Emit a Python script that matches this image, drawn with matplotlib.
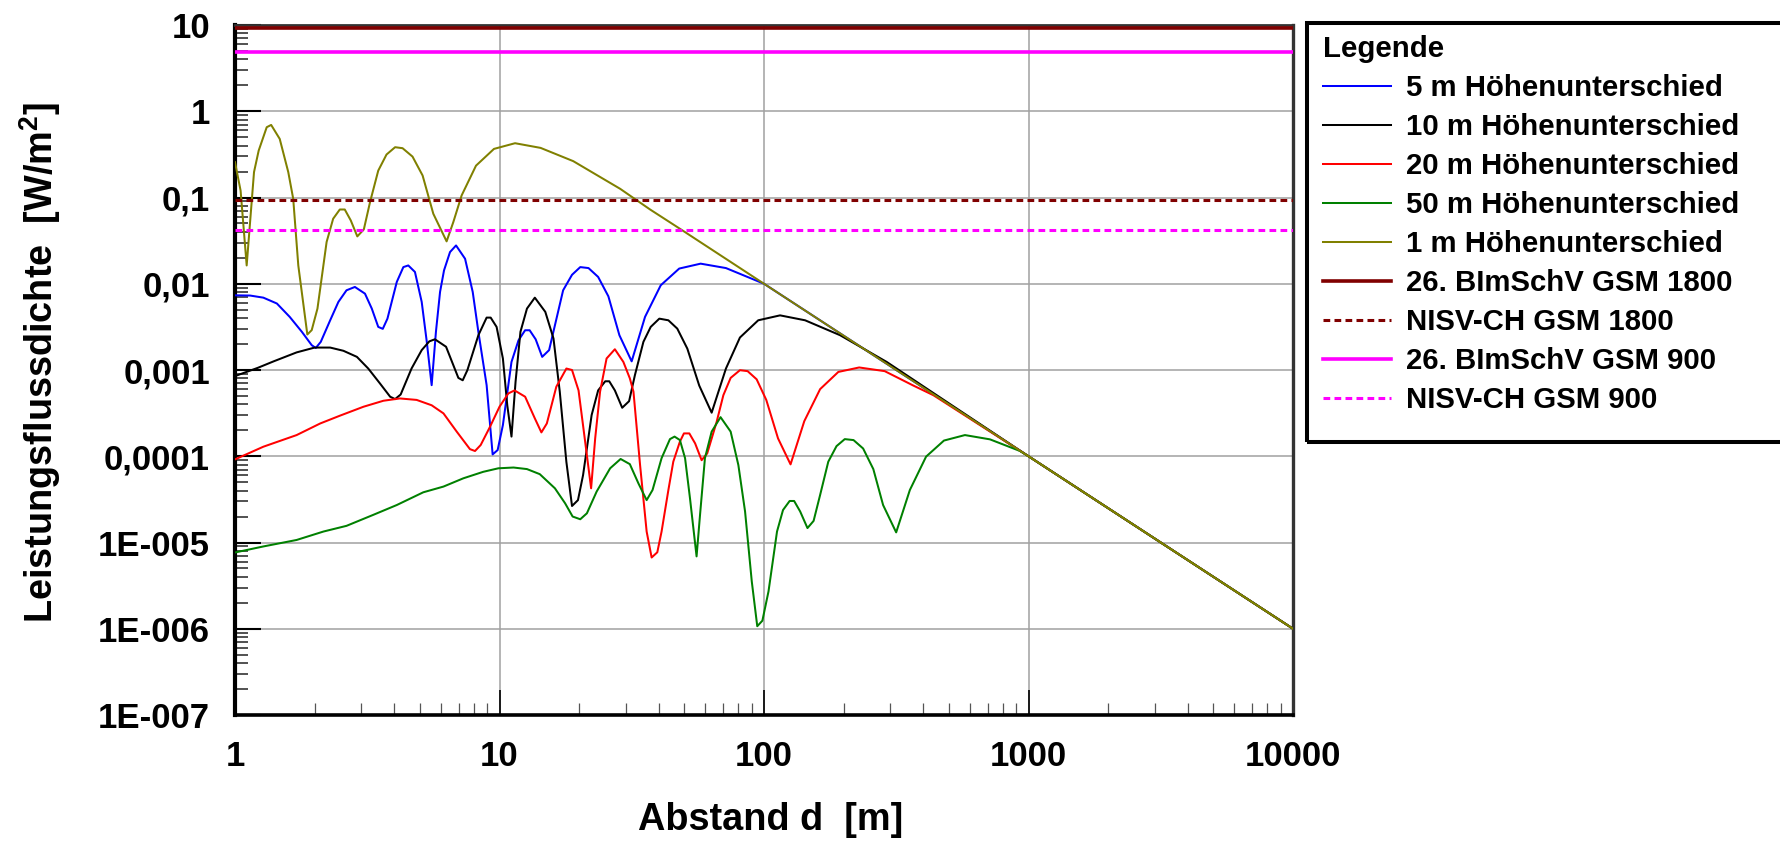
import numpy as np
import matplotlib
matplotlib.use("Agg")
import matplotlib.pyplot as plt
from matplotlib.patches import Rectangle
from matplotlib.ticker import LogLocator, NullFormatter

plt.rcParams['font.family'] = ['Liberation Sans', 'DejaVu Sans']
plt.rcParams['font.weight'] = 'bold'
plt.rcParams['mathtext.fontset'] = 'custom'
plt.rcParams['mathtext.rm'] = 'Liberation Sans:bold'
plt.rcParams['mathtext.bf'] = 'Liberation Sans:bold'
plt.rcParams['mathtext.default'] = 'rm'

# ---------------- data ----------------
d_1m = [1.0, 1.05, 1.107, 1.18, 1.229, 1.318, 1.37, 1.476, 1.59, 1.66, 1.735, 1.877, 1.95, 2.05,
        2.22, 2.35, 2.49, 2.6, 2.74, 2.9, 3.07, 3.24, 3.48, 3.74, 4.03, 4.3, 4.69, 5.12, 5.62,
        6.31, 6.69, 7.19, 8.15, 9.53, 11.45, 14.3, 19.0, 28.6, 37.1, 48.1, 100, 1000, 10000]
p_1m = [0.257, 0.12, 0.0163, 0.197, 0.35, 0.653, 0.694, 0.478, 0.197, 0.0966, 0.0163, 0.00258,
        0.0029, 0.00515, 0.0305, 0.0567, 0.0726, 0.0726, 0.0542, 0.0354, 0.0427, 0.0885, 0.205,
        0.315, 0.383, 0.373, 0.298, 0.18, 0.0648, 0.031, 0.0519, 0.1055, 0.234, 0.366, 0.426,
        0.376, 0.264, 0.126, 0.0726, 0.0434, 0.01, 1e-4, 1e-6]

d_5m = [1.0, 1.14, 1.28, 1.44, 1.61, 1.79, 1.95, 2.02, 2.11, 2.29, 2.46, 2.64, 2.84, 3.1, 3.29,
        3.48, 3.62, 3.77, 4.09, 4.33, 4.52, 4.79, 5.08, 5.31, 5.54, 5.75, 5.96, 6.17, 6.5, 6.85,
        7.41, 7.92, 8.32, 8.94, 9.42, 9.84, 10.3, 11.1, 11.8, 12.5, 13.0, 13.7, 14.5, 15.4, 17.4,
        18.8, 20.2, 21.7, 23.6, 25.8, 28.4, 31.6, 35.5, 40.7, 47.8, 57.6, 71.8, 100, 1000, 10000]
p_5m = [0.00734, 0.0073, 0.0069, 0.0059, 0.00413, 0.00277, 0.00194, 0.0018, 0.00212, 0.00377,
        0.00616, 0.0084, 0.00918, 0.00768, 0.00515, 0.00316, 0.0030, 0.00394, 0.0105, 0.0156,
        0.0163, 0.0137, 0.00616, 0.00212, 0.000667, 0.00277, 0.00804, 0.0143, 0.0233, 0.0278,
        0.0195, 0.00804, 0.00277, 0.000667, 1.05e-4, 1.18e-4, 2.3e-4, 0.00124, 0.00221, 0.00289,
        0.00289, 0.00227, 0.00142, 0.0017, 0.0084, 0.0127, 0.0156, 0.0152, 0.012, 0.00715,
        0.00253, 0.00126, 0.00413, 0.0096, 0.015, 0.0171, 0.0152, 0.01, 1e-4, 1e-6]

d_10m = [1.0, 1.22, 1.4, 1.71, 2.0, 2.29, 2.57, 2.89, 3.19, 3.53, 3.86, 4.03, 4.23, 4.65, 5.08,
         5.43, 5.7, 6.28, 6.99, 7.26, 7.56, 8.32, 8.94, 9.26, 9.75, 10.3, 10.7, 11.1, 11.5, 12.0,
         12.7, 13.6, 14.9, 16.0, 16.9, 17.9, 18.8, 19.8, 20.7, 22.3, 23.6, 25.1, 26.0, 27.3, 29.1,
         30.9, 32.5, 35.0, 37.3, 40.2, 43.5, 47.0, 51.3, 56.9, 63.4, 71.8, 81.1, 95.1, 115, 143,
         194, 291, 1000, 10000]
p_10m = [8.5e-4, 0.00106, 0.00126, 0.0016, 0.00182, 0.00182, 0.00167, 0.00142, 0.00104, 7.0e-4,
         4.9e-4, 4.6e-4, 5.2e-4, 0.00104, 0.0017, 0.00215, 0.00227, 0.00186, 8.1e-4, 7.6e-4,
         9.95e-4, 0.00253, 0.00405, 0.00405, 0.00316, 0.00136, 3.9e-4, 1.69e-4, 7.3e-4, 0.00277,
         0.00515, 0.0069, 0.00472, 0.00232, 5.6e-4, 8.6e-5, 2.65e-5, 3.1e-5, 6.05e-5, 3.0e-4,
         5.8e-4, 7.4e-4, 7.4e-4, 5.8e-4, 3.65e-4, 4.35e-4, 8.7e-4, 0.00212, 0.00316, 0.00394,
         0.00377, 0.00302, 0.00177, 6.6e-4, 3.2e-4, 0.00104, 0.00238, 0.00377, 0.0043, 0.00377,
         0.00253, 0.00124, 1e-4, 1e-6]

d_20m = [1.0, 1.28, 1.71, 2.1, 2.49, 3.06, 3.64, 4.2, 4.86, 5.54, 6.14, 6.89, 7.73, 8.08, 8.49,
         9.21, 10.0, 10.8, 11.4, 12.5, 13.6, 14.4, 15.1, 16.4, 17.9, 18.8, 19.9, 21.0, 22.2, 23.0,
         24.0, 25.4, 27.3, 29.4, 31.1, 32.1, 34.0, 36.0, 37.6, 39.5, 41.0, 43.5, 45.4, 48.1, 49.8,
         52.2, 54.9, 58.1, 61.0, 66.2, 70.2, 74.8, 81.1, 86.7, 93.8, 102, 113, 126, 142, 163, 191,
         229, 286, 367, 437, 1000, 10000]
p_20m = [9.2e-5, 1.29e-4, 1.76e-4, 2.4e-4, 2.95e-4, 3.75e-4, 4.4e-4, 4.68e-4, 4.5e-4, 3.9e-4,
         3.14e-4, 1.93e-4, 1.21e-4, 1.15e-4, 1.35e-4, 2.2e-4, 3.75e-4, 5.35e-4, 5.8e-4, 4.9e-4,
         2.75e-4, 1.89e-4, 2.4e-4, 6.4e-4, 1.04e-3, 1.0e-3, 5.8e-4, 1.61e-4, 4.25e-5, 1.61e-4,
         5.6e-4, 1.36e-3, 1.74e-3, 1.24e-3, 8.0e-4, 5.6e-4, 7.9e-5, 1.34e-5, 6.7e-6, 7.7e-6,
         1.34e-5, 4.06e-5, 8.65e-5, 1.48e-4, 1.84e-4, 1.84e-4, 1.41e-4, 9.0e-5, 1.08e-4, 2.5e-4,
         5.1e-4, 8.1e-4, 9.95e-4, 9.7e-4, 7.8e-4, 4.5e-4, 1.61e-4, 8.05e-5, 2.55e-4, 6.0e-4,
         9.5e-4, 1.07e-3, 9.7e-4, 6.6e-4, 5.1e-4, 1e-4, 1e-6]

d_50m = [1.0, 1.28, 1.71, 2.16, 2.64, 3.33, 4.09, 5.15, 6.14, 7.3, 8.68, 9.9, 11.3, 12.7, 14.2,
         16.2, 17.7, 18.9, 20.2, 21.4, 23.3, 26.2, 28.7, 31.1, 33.5, 36.0, 37.9, 41.0, 44.1, 45.9,
         48.1, 50.3, 52.5, 55.6, 57.3, 59.8, 63.4, 68.5, 74.8, 80.0, 84.8, 89.9, 94.3, 98.6, 104,
         112, 118, 125, 130, 137, 146, 154, 163, 175, 188, 202, 218, 237, 259, 282, 316, 356, 410,
         479, 575, 715, 929, 1000, 10000]
p_50m = [7.66e-6, 9.0e-6, 1.07e-5, 1.34e-5, 1.56e-5, 2.09e-5, 2.72e-5, 3.82e-5, 4.45e-5, 5.55e-5,
         6.6e-5, 7.25e-5, 7.4e-5, 7.1e-5, 6.2e-5, 4.25e-5, 2.85e-5, 2.0e-5, 1.86e-5, 2.18e-5,
         3.9e-5, 7.25e-5, 9.3e-5, 8.1e-5, 4.86e-5, 3.1e-5, 4.06e-5, 9.5e-5, 1.58e-4, 1.69e-4,
         1.54e-4, 9.5e-5, 3.26e-5, 6.9e-6, 2.09e-5, 9.5e-5, 1.93e-4, 2.84e-4, 1.93e-4, 7.9e-5,
         2.29e-5, 3.54e-6, 1.07e-6, 1.24e-6, 2.71e-6, 1.34e-5, 2.38e-5, 3.03e-5, 3.03e-5, 2.29e-5,
         1.47e-5, 1.78e-5, 3.56e-5, 8.65e-5, 1.31e-4, 1.58e-4, 1.54e-4, 1.23e-4, 7.1e-5, 2.72e-5,
         1.31e-5, 4.06e-5, 9.9e-5, 1.52e-4, 1.76e-4, 1.57e-4, 1.15e-4, 1e-4, 1e-6]

limit_names = ["26. BImSchV GSM 1800", "NISV-CH GSM 1800", "26. BImSchV GSM 900", "NISV-CH GSM 900"]
limit_values = [9.3, 0.0933, 4.8, 0.0424]

series_labels = ["5 m Höhenunterschied", "10 m Höhenunterschied", "20 m Höhenunterschied",
                 "50 m Höhenunterschied", "1 m Höhenunterschied"]

y_ticks = [1e-7, 1e-6, 1e-5, 1e-4, 1e-3, 1e-2, 1e-1, 1, 10]
y_ticklabels = ["1E-007", "1E-006", "1E-005", "0,0001", "0,001", "0,01", "0,1", "1", "10"]
x_ticks = [1, 10, 100, 1000, 10000]
x_ticklabels = ["1", "10", "100", "1000", "10000"]

# ---------------- figure ----------------
W, H = 1781, 846
fig = plt.figure(figsize=(W / 100, H / 100), dpi=100)
ax = fig.add_axes([235 / W, 1 - 715 / H, (1293 - 235) / W, (715 - 25) / H])
ax.set_xscale('log')
ax.set_yscale('log')
ax.set_xlim(1, 10000)
ax.set_ylim(1e-7, 10)

lw = 1.45
h5, = ax.plot(d_5m, p_5m, color='#0000ff', lw=lw, label=series_labels[0], zorder=3)
h10, = ax.plot(d_10m, p_10m, color='#000000', lw=lw, label=series_labels[1], zorder=3)
h20, = ax.plot(d_20m, p_20m, color='#ff0000', lw=lw, label=series_labels[2], zorder=3)
h50, = ax.plot(d_50m, p_50m, color='#008000', lw=lw, label=series_labels[3], zorder=3)
h1, = ax.plot(d_1m, p_1m, color='#808000', lw=lw, label=series_labels[4], zorder=3)

l1 = ax.axhline(limit_values[0], color='#800000', lw=2.6, label=limit_names[0], zorder=4)
l2 = ax.axhline(limit_values[1], color='#800000', lw=2.2, dashes=(2.2, 1.4), label=limit_names[1], zorder=4)
l3 = ax.axhline(limit_values[2], color='#ff00ff', lw=2.6, label=limit_names[2], zorder=4)
l4 = ax.axhline(limit_values[3], color='#ff00ff', lw=2.2, dashes=(2.2, 1.4), label=limit_names[3], zorder=4)

# grid / ticks
ax.set_axisbelow(True)
ax.grid(True, which='major', color='#a0a0a0', lw=1.1)
ax.set_yticks(y_ticks)
ax.set_yticklabels(y_ticklabels)
ax.set_xticks(x_ticks)
ax.set_xticklabels(x_ticklabels)
ax.yaxis.set_minor_locator(LogLocator(base=10, subs=np.arange(2, 10), numticks=100))
ax.xaxis.set_minor_locator(LogLocator(base=10, subs=np.arange(2, 10), numticks=100))
ax.yaxis.set_minor_formatter(NullFormatter())
ax.xaxis.set_minor_formatter(NullFormatter())
ax.tick_params(axis='y', which='major', direction='in', length=19, width=1.5, color='black',
               labelsize=25, pad=18, left=True, right=False)
ax.tick_params(axis='y', which='minor', direction='in', length=9.5, width=1.2, color='#333333',
               left=True, right=False)
ax.tick_params(axis='x', which='major', direction='in', length=18, width=1.2, color='black',
               labelsize=25, pad=18, bottom=True, top=False)
ax.tick_params(axis='x', which='minor', direction='in', length=8.6, width=0.9, color='#555555',
               bottom=True, top=False)
for lab in ax.get_xticklabels() + ax.get_yticklabels():
    lab.set_fontweight('bold')

ax.spines['left'].set_linewidth(3.0)
ax.spines['left'].set_color('black')
ax.spines['bottom'].set_linewidth(2.6)
ax.spines['bottom'].set_color('black')
ax.spines['top'].set_linewidth(2.0)
ax.spines['top'].set_color('#333333')
ax.spines['right'].set_linewidth(2.4)
ax.spines['right'].set_color('#333333')

ax.set_ylabel("Leistungsflussdichte  [W/m$^2$]", fontsize=27.3, fontweight='bold', va='center')
ax.yaxis.set_label_coords((40 - 235) / (1293 - 235), (715 - 362) / (715 - 25))
ax.set_xlabel("Abstand d  [m]", fontsize=27.3, fontweight='bold', va='center')
ax.xaxis.set_label_coords((771 - 235) / (1293 - 235), (715 - 820) / (715 - 25))

# legend
handles = [h5, h10, h20, h50, h1, l1, l2, l3, l4]
leg = fig.legend(handles, [h.get_label() for h in handles], loc='upper left',
                 bbox_to_anchor=(1323 / W, 1 - 35 / H), frameon=False, borderpad=0,
                 borderaxespad=0, handlelength=2.31, handletextpad=0.5, labelspacing=0.375,
                 fontsize=21.2, title='Legende', title_fontproperties={'weight': 'bold', 'size': 21.2},
                 alignment='left')
frame = Rectangle((1307 / W, 1 - 442 / H), 0.4, 419 / H, transform=fig.transFigure,
                  fill=False, lw=2.9, ec='black')
fig.add_artist(frame)

fig.savefig('out.png', dpi=100)
